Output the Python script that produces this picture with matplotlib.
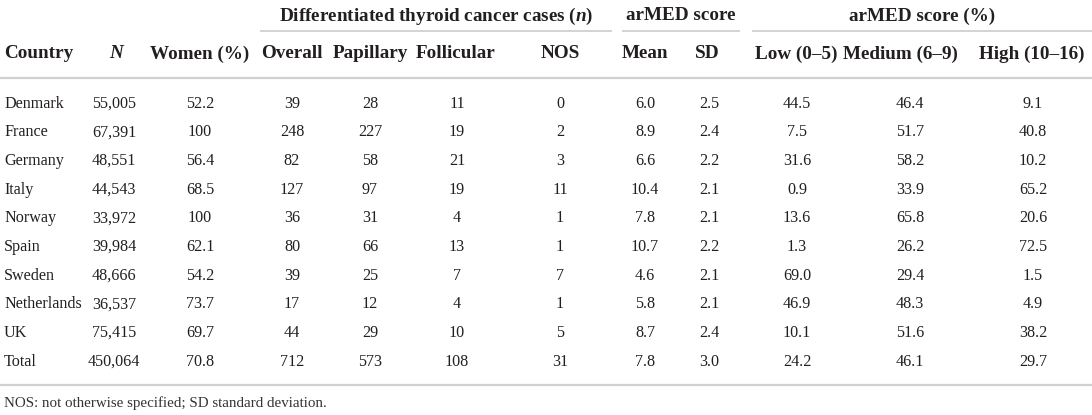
import matplotlib
matplotlib.use("Agg")
import matplotlib.pyplot as plt

plt.rcParams['font.family'] = ['Liberation Serif', 'DejaVu Serif']
plt.rcParams['mathtext.fontset'] = 'custom'
plt.rcParams['mathtext.it'] = 'Liberation Serif:italic:bold'
plt.rcParams['mathtext.rm'] = 'Liberation Serif:bold'

# table data
countries = ["Denmark", "France", "Germany", "Italy", "Norway", "Spain",
             "Sweden", "Netherlands", "UK", "Total"]
n_total = ["55,005", "67,391", "48,551", "44,543", "33,972", "39,984",
           "48,666", "36,537", "75,415", "450,064"]
women = ["52.2", "100", "56.4", "68.5", "100", "62.1", "54.2", "73.7", "69.7", "70.8"]
overall = ["39", "248", "82", "127", "36", "80", "39", "17", "44", "712"]
papillary = ["28", "227", "58", "97", "31", "66", "25", "12", "29", "573"]
follicular = ["11", "19", "21", "19", "4", "13", "7", "4", "10", "108"]
nos = ["0", "2", "3", "11", "1", "1", "7", "1", "5", "31"]
mean = ["6.0", "8.9", "6.6", "10.4", "7.8", "10.7", "4.6", "5.8", "8.7", "7.8"]
sd = ["2.5", "2.4", "2.2", "2.1", "2.1", "2.2", "2.1", "2.1", "2.4", "3.0"]
low = ["44.5", "7.5", "31.6", "0.9", "13.6", "1.3", "69.0", "46.9", "10.1", "24.2"]
medium = ["46.4", "51.7", "58.2", "33.9", "65.8", "26.2", "29.4", "48.3", "51.6", "46.1"]
high = ["9.1", "40.8", "10.2", "65.2", "20.6", "72.5", "1.5", "4.9", "38.2", "29.7"]

headers = ["Country", "$N$", "Women (%)", "Overall", "Papillary", "Follicular",
           "NOS", "Mean", "SD", "Low (0–5)", "Medium (6–9)", "High (10–16)"]
groups = ["Differentiated thyroid cancer cases ($n$)", "arMED score", "arMED score (%)"]
footnote = "NOS: not otherwise specified; SD standard deviation."

columns = [countries, n_total, women, overall, papillary, follicular,
           nos, mean, sd, low, medium, high]

# layout (pixels, baselines)
head_x = [4, 117, 200, 292, 370, 456, 560, 645, 707, 796, 900, 1032]
data_x = [4, 114, 200, 292, 370, 457, 560, 645, 709, 797, 910, 1033]
group_span = [(260, 612), (622, 740), (752, 1092)]
row_y0, row_dy = 107.5, 28.7

fig = plt.figure(figsize=(10.92, 4.15), dpi=100)
ax = fig.add_axes([0, 0, 1, 1])
ax.set_xlim(0, 1092)
ax.set_ylim(415, 0)
ax.axis("off")

txt = "#231f20"
rule = "#d0d0d0"

# group headers with underlines
for (x0, x1), g in zip(group_span, groups):
    ax.text((x0 + x1) / 2, 20.5, g, ha="center", va="baseline",
            fontsize=13.8, fontweight="bold", color=txt)
    ax.hlines(31, x0, x1, color=rule, lw=1.3)

# column headers
for i, (x, h) in enumerate(zip(head_x, headers)):
    ax.text(x, 58.5, h, ha="left" if i == 0 else "center", va="baseline",
            fontsize=13.8, fontweight="bold", color=txt)

ax.hlines(78, 0, 1092, color=rule, lw=1.6)

# body
for c, (x, col) in enumerate(zip(data_x, columns)):
    for r, v in enumerate(col):
        ax.text(x, row_y0 + r * row_dy, v, ha="left" if c == 0 else "center",
                va="baseline", fontsize=11.6, color=txt)

ax.hlines(385, 0, 1092, color=rule, lw=1.6)
ax.text(4, 407, footnote, ha="left", va="baseline", fontsize=10.8, color="#333333")

fig.savefig("out.png", dpi=100)
